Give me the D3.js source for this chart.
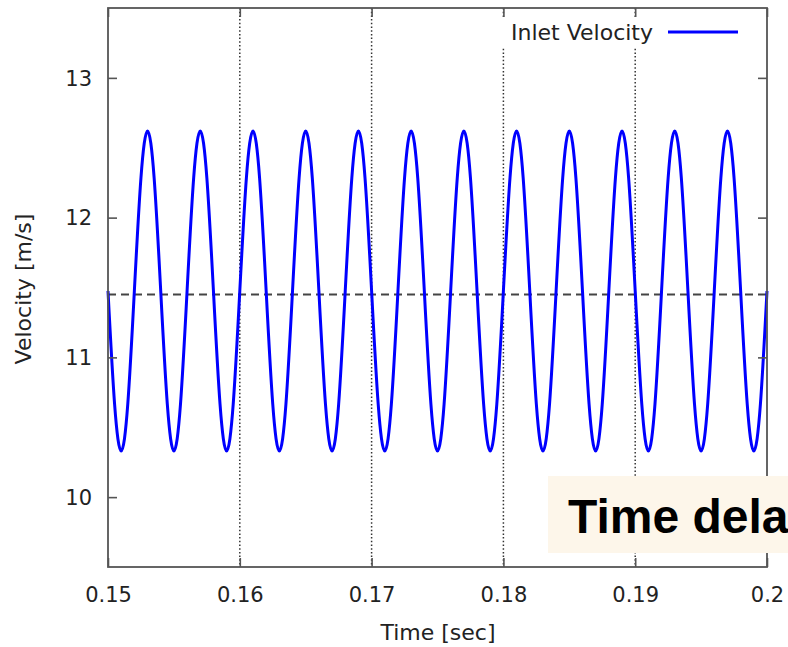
<!DOCTYPE html>
<html><head><meta charset="utf-8">
<script src="https://cdn.jsdelivr.net/npm/d3@7"></script>
<style>
body{margin:0;background:#fff;}
svg{display:block;}
</style></head>
<body>
<svg id="c" width="788" height="647"></svg>
<script>
// ---- data ----
const timeStart = 0.15, timeStep = 0.0005;   // sample spacing of the listed values
const velocity = [
  11.475,10.665,10.33,10.665,11.475,12.285,12.62,12.285,
  11.475,10.665,10.33,10.665,11.475,12.285,12.62,12.285,
  11.475,10.665,10.33,10.665,11.475,12.285,12.62,12.285,
  11.475,10.665,10.33,10.665,11.475,12.285,12.62,12.285,
  11.475,10.665,10.33,10.665,11.475,12.285,12.62,12.285,
  11.475,10.665,10.33,10.665,11.475,12.285,12.62,12.285,
  11.475,10.665,10.33,10.665,11.475,12.285,12.62,12.285,
  11.475,10.665,10.33,10.665,11.475,12.285,12.62,12.285,
  11.475,10.665,10.33,10.665,11.475,12.285,12.62,12.285,
  11.475,10.665,10.33,10.665,11.475,12.285,12.62,12.285,
  11.475,10.665,10.33,10.665,11.475,12.285,12.62,12.285,
  11.475,10.665,10.33,10.665,11.475,12.285,12.62,12.285,
  11.475,10.665,10.33,10.665,11.475
];
const meanVelocity = 11.45;
const xTicks = [0.15,0.16,0.17,0.18,0.19,0.2];
const xTickLabels = ["0.15","0.16","0.17","0.18","0.19","0.2"];
const yTicks = [10,11,12,13];
const xDomain = [0.15,0.2];
const yDomain = [9.5,13.5];
const seriesName = "Inlet Velocity";
const xTitle = "Time [sec]";
const yTitle = "Velocity [m/s]";
const overlayText = "Time dela";

// ---- layout ----
const L = 108, R = 767, T = 8, B = 567;
const svg = d3.select("#c");
const x = d3.scaleLinear().domain(xDomain).range([L, R]);
const y = d3.scaleLinear().domain(yDomain).range([B, T]);
const FONT = "DejaVu Sans, Verdana, sans-serif";
const frameColor = "#555";

// grid (vertical dotted)
svg.append("g").selectAll("line")
  .data(xTicks.slice(1, -1)).join("line")
  .attr("x1", d => x(d)).attr("x2", d => x(d))
  .attr("y1", T).attr("y2", B)
  .attr("stroke", "#333").attr("stroke-width", 1.5)
  .attr("stroke-dasharray", "1.5,2.2");

// mean dashed line
svg.append("line")
  .attr("x1", L).attr("x2", R)
  .attr("y1", y(meanVelocity)).attr("y2", y(meanVelocity))
  .attr("stroke", "#444").attr("stroke-width", 1.8)
  .attr("stroke-dasharray", "8,5");

// series
const pts = velocity.map((v, i) => [timeStart + i * timeStep, v]);
const line = d3.line().x(d => x(d[0])).y(d => y(d[1])).curve(d3.curveNatural);
svg.append("path").datum(pts)
  .attr("d", line).attr("fill", "none")
  .attr("stroke", "#0000ff").attr("stroke-width", 3)
  .attr("stroke-linejoin", "round");

// axes (ticks inward, mirrored)
const tickLen = 9;
const gx = svg.append("g").attr("transform", `translate(0,${B})`)
  .call(d3.axisBottom(x).tickValues(xTicks).tickFormat((d, i) => xTickLabels[i])
    .tickSize(-tickLen).tickSizeOuter(0).tickPadding(20));
const gxt = svg.append("g").attr("transform", `translate(0,${T})`)
  .call(d3.axisTop(x).tickValues(xTicks).tickFormat("").tickSize(-tickLen).tickSizeOuter(0));
const gy = svg.append("g").attr("transform", `translate(${L},0)`)
  .call(d3.axisLeft(y).tickValues(yTicks).tickFormat(d3.format("d"))
    .tickSize(-tickLen).tickSizeOuter(0).tickPadding(16));
const gyr = svg.append("g").attr("transform", `translate(${R},0)`)
  .call(d3.axisRight(y).tickValues(yTicks).tickFormat("").tickSize(-tickLen).tickSizeOuter(0));
[gx, gxt, gy, gyr].forEach(g => {
  g.select(".domain").remove();
  g.selectAll(".tick line").attr("stroke", frameColor).attr("stroke-width", 1.6);
  g.selectAll("text").attr("font-family", FONT).attr("font-size", 21).attr("fill", "#222");
});
gy.selectAll("text").attr("dy", "0.35em");

// frame
svg.append("rect").attr("x", L).attr("y", T).attr("width", R - L).attr("height", B - T)
  .attr("fill", "none").attr("stroke", frameColor).attr("stroke-width", 1.8);

// axis titles
svg.append("text").attr("x", 438).attr("y", 640)
  .attr("text-anchor", "middle").attr("font-family", FONT).attr("font-size", 22)
  .attr("fill", "#222").text(xTitle);
svg.append("text").attr("transform", `translate(31,289) rotate(-90)`)
  .attr("text-anchor", "middle").attr("font-family", FONT).attr("font-size", 22)
  .attr("fill", "#222").text(yTitle);

// legend
svg.append("rect").attr("x", 500).attr("y", 17).attr("width", 248).attr("height", 30).attr("fill", "#fff");
svg.append("text").attr("x", 653).attr("y", 40).attr("text-anchor", "end")
  .attr("font-family", FONT).attr("font-size", 22).attr("fill", "#222").text(seriesName);
svg.append("line").attr("x1", 668).attr("x2", 738).attr("y1", 32).attr("y2", 32)
  .attr("stroke", "#0000ff").attr("stroke-width", 3);

// overlay label box
svg.append("rect").attr("x", 548).attr("y", 476).attr("width", 260).attr("height", 77).attr("fill", "#fdf6ea");
svg.append("text").attr("x", 568).attr("y", 533)
  .attr("font-family", "Liberation Sans, Arial, sans-serif").attr("font-weight", "bold")
  .attr("font-size", 48).attr("fill", "#000").text(overlayText);
</script>
</body></html>
